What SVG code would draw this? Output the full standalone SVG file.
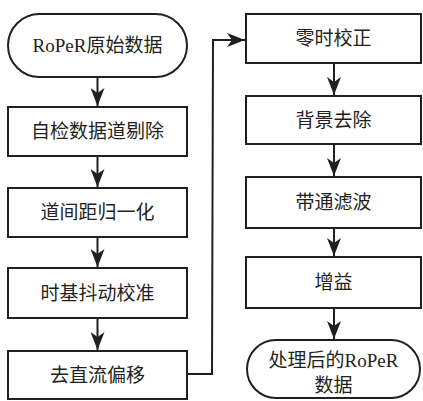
<svg xmlns="http://www.w3.org/2000/svg" width="423" height="401" viewBox="0 0 423 401">
<style>
.n{fill:#fff;stroke:#231f20;stroke-width:2}
.t{font-family:"Liberation Serif","Noto Sans CJK SC",serif;font-size:19px;fill:#231f20;text-anchor:middle;dominant-baseline:central}
.c{fill:none;stroke:#231f20;stroke-width:2}
</style>
<defs>
<marker id="ah" markerUnits="userSpaceOnUse" markerWidth="18" markerHeight="14" viewBox="0 0 18 14" refX="18" refY="7" orient="auto">
<path d="M0,0 L18,7 L0,14 L5,7 Z" fill="#231f20"/>
</marker>
</defs>
<rect width="423" height="401" fill="#fff"/>
<g id="connectors">
<line class="c" x1="97.5" y1="77" x2="97.5" y2="106" marker-end="url(#ah)"/>
<line class="c" x1="97.5" y1="156" x2="97.5" y2="187" marker-end="url(#ah)"/>
<line class="c" x1="97.5" y1="237" x2="97.5" y2="267" marker-end="url(#ah)"/>
<line class="c" x1="97.5" y1="318" x2="97.5" y2="350" marker-end="url(#ah)"/>
<polyline class="c" points="187,374 212,374 213,40 245,40" marker-end="url(#ah)"/>
<line class="c" x1="334" y1="63" x2="334" y2="95" marker-end="url(#ah)"/>
<line class="c" x1="334" y1="144" x2="334" y2="176" marker-end="url(#ah)"/>
<line class="c" x1="334" y1="228" x2="334" y2="256" marker-end="url(#ah)"/>
<line class="c" x1="334" y1="308" x2="334" y2="339" marker-end="url(#ah)"/>
</g>
<g id="n1"><rect class="n" x="8" y="14" width="179" height="63" rx="31.5"/><text class="t" x="97.5" y="45.5">RoPeR原始数据</text></g>
<g id="n2"><rect class="n" x="8" y="107" width="179" height="49"/><text class="t" x="97.5" y="131.5">自检数据道剔除</text></g>
<g id="n3"><rect class="n" x="8" y="188" width="179" height="49"/><text class="t" x="97.5" y="212.5">道间距归一化</text></g>
<g id="n4"><rect class="n" x="8" y="268" width="179" height="50"/><text class="t" x="97.5" y="293">时基抖动校准</text></g>
<g id="n5"><rect class="n" x="8" y="351" width="179" height="48"/><text class="t" x="97.5" y="375">去直流偏移</text></g>
<g id="n6"><rect class="n" x="246" y="14" width="175" height="49"/><text class="t" x="333.5" y="38.5">零时校正</text></g>
<g id="n7"><rect class="n" x="246" y="96" width="175" height="48"/><text class="t" x="333.5" y="120">背景去除</text></g>
<g id="n8"><rect class="n" x="246" y="177" width="175" height="51"/><text class="t" x="333.5" y="202.5">带通滤波</text></g>
<g id="n9"><rect class="n" x="246" y="257" width="175" height="51"/><text class="t" x="333.5" y="282.5">增益</text></g>
<g id="n10"><rect class="n" x="247" y="340" width="173" height="58" rx="29"/><text class="t" x="333.5" y="360">处理后的RoPeR</text><text class="t" x="333.5" y="385">数据</text></g>
</svg>
